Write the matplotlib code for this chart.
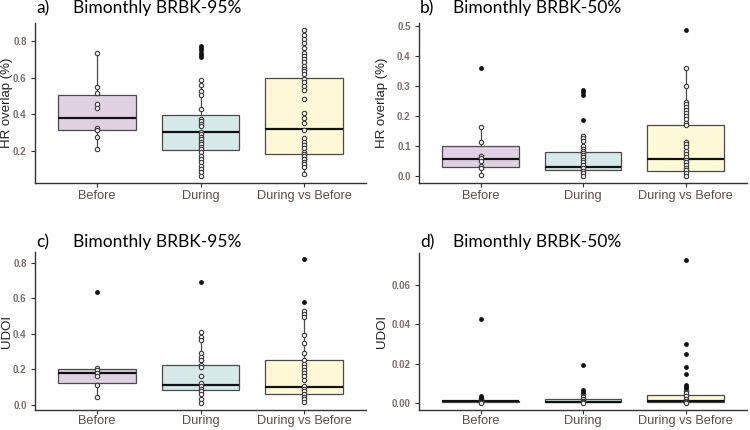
import numpy as np
import matplotlib
matplotlib.use("Agg")
import matplotlib.pyplot as plt

# === Data ===
groups = ["Before", "During", "During vs Before"]
fills = ["#dfd1e2", "#d5eae8", "#fff9d7"]

# a) HR overlap, BRBK-95%
a_before = [0.735, 0.55, 0.517, 0.454, 0.436, 0.322, 0.314, 0.278, 0.209]
a_during = [0.774, 0.762, 0.749, 0.736, 0.724, 0.711, 0.584, 0.559, 0.526, 0.503,
            0.427, 0.376, 0.361, 0.347, 0.333, 0.30, 0.291, 0.278, 0.264, 0.249,
            0.236, 0.222, 0.208, 0.195, 0.173, 0.155, 0.137, 0.118, 0.10, 0.083, 0.064]
a_dvb = [0.858, 0.834, 0.811, 0.789, 0.762, 0.735, 0.716, 0.702, 0.687, 0.662,
         0.648, 0.633, 0.617, 0.59, 0.575, 0.553, 0.531, 0.481, 0.405, 0.379,
         0.354, 0.311, 0.269, 0.249, 0.231, 0.213, 0.195, 0.182, 0.17, 0.155,
         0.14, 0.126, 0.111, 0.072]
a_q1 = [0.314, 0.204, 0.182]
a_med = [0.378, 0.30, 0.318]
a_q3 = [0.503, 0.398, 0.597]
a_lo = [0.209, 0.064, 0.072]
a_hi = [0.735, 0.584, 0.858]

# b) HR overlap, BRBK-50%
b_before = [0.359, 0.163, 0.112, 0.065, 0.058, 0.05, 0.033, 0.026, 0.002]
b_during = [0.286, 0.278, 0.27, 0.187, 0.133, 0.125, 0.116, 0.10, 0.089, 0.082,
            0.076, 0.069, 0.061, 0.052, 0.045, 0.036, 0.025, 0.017, 0.009, 0.0]
b_dvb = [0.485, 0.358, 0.298, 0.247, 0.238, 0.229, 0.22, 0.208, 0.198, 0.189,
         0.177, 0.169, 0.113, 0.105, 0.095, 0.082, 0.071, 0.062, 0.053, 0.045,
         0.036, 0.027, 0.018, 0.009, 0.0]
b_q1 = [0.029, 0.018, 0.017]
b_med = [0.055, 0.028, 0.055]
b_q3 = [0.099, 0.08, 0.169]
b_lo = [0.002, 0.0, 0.0]
b_hi = [0.163, 0.133, 0.358]

# c) UDOI, BRBK-95%
c_before = [0.634, 0.207, 0.193, 0.179, 0.164, 0.109, 0.044]
c_during = [0.693, 0.412, 0.384, 0.362, 0.291, 0.269, 0.25, 0.225, 0.21, 0.16,
            0.122, 0.103, 0.089, 0.074, 0.057, 0.034, 0.01]
c_dvb = [0.821, 0.579, 0.527, 0.512, 0.493, 0.392, 0.347, 0.294, 0.25, 0.231,
         0.212, 0.193, 0.179, 0.16, 0.141, 0.103, 0.089, 0.074, 0.058, 0.044,
         0.029, 0.013]
c_q1 = [0.12, 0.081, 0.058]
c_med = [0.176, 0.113, 0.1]
c_q3 = [0.199, 0.226, 0.25]
c_lo = [0.044, 0.01, 0.013]
c_hi = [0.207, 0.412, 0.527]

# d) UDOI, BRBK-50%
d_before = [0.0425, 0.0033, 0.0025, 0.0018, 0.0012, 0.0005, 0.0]
d_during = [0.0195, 0.0065, 0.0057, 0.0044, 0.003, 0.002, 0.0012, 0.0007, 0.0003, 0.0]
d_dvb = [0.0727, 0.03, 0.0247, 0.0185, 0.0148, 0.0093, 0.0083, 0.0074, 0.0062,
         0.005, 0.0035, 0.002, 0.001, 0.0005, 0.0]
d_q1 = [0.0006, 0.0002, 0.0003]
d_med = [0.0009, 0.0006, 0.0008]
d_q3 = [0.0012, 0.0021, 0.0038]
d_lo = [0.0, 0.0, 0.0]
d_hi = [0.0018, 0.0044, 0.0062]

# === Panel settings ===
panels = [
    ("a)", "Bimonthly BRBK-95%", "HR overlap (%)", [a_before, a_during, a_dvb],
     a_q1, a_med, a_q3, a_lo, a_hi, [0.2, 0.4, 0.6, 0.8], "{:.1f}"),
    ("b)", "Bimonthly BRBK-50%", "HR overlap (%)", [b_before, b_during, b_dvb],
     b_q1, b_med, b_q3, b_lo, b_hi, [0.0, 0.1, 0.2, 0.3, 0.4, 0.5], "{:.1f}"),
    ("c)", "Bimonthly BRBK-95%", "UDOI", [c_before, c_during, c_dvb],
     c_q1, c_med, c_q3, c_lo, c_hi, [0.0, 0.2, 0.4, 0.6, 0.8], "{:.1f}"),
    ("d)", "Bimonthly BRBK-50%", "UDOI", [d_before, d_during, d_dvb],
     d_q1, d_med, d_q3, d_lo, d_hi, [0.0, 0.02, 0.04, 0.06], "{:.2f}"),
]

# axes rectangles in pixels: left, top, right, bottom
W, H = 750, 430
rects = [(35, 23, 366, 183), (419, 23, 747, 183),
         (35, 252, 366, 410), (419, 253, 747, 410)]
title_pos = [(36, 73, 13), (420, 453, 13), (36, 73, 247), (420, 453, 247)]
ylabel_x = [13, 388, 13, 388]
xpad = [2, 2, 0.3, 0.3]

fig = plt.figure(figsize=(W / 100, H / 100), dpi=100)

for k, (tag, title, ylab, data, q1, med, q3, lo, hi, yticks, fmt) in enumerate(panels):
    l, t, r, b = rects[k]
    ax = fig.add_axes([l / W, 1 - b / H, (r - l) / W, (b - t) / H])

    stats = []
    for i in range(3):
        stats.append(dict(q1=q1[i], med=med[i], q3=q3[i], whislo=lo[i], whishi=hi[i],
                          fliers=[]))
    bp = ax.bxp(stats, positions=[1, 2, 3], widths=0.75, patch_artist=True,
                showcaps=False,
                boxprops=dict(edgecolor="#4a4a4a", linewidth=0.9),
                whiskerprops=dict(color="#4a4a4a", linewidth=0.9),
                medianprops=dict(color="#111111", linewidth=1.6))
    for patch, c in zip(bp["boxes"], fills):
        patch.set_facecolor(c)

    for i, vals in enumerate(data):
        vals = np.array(vals)
        inside = vals[(vals >= lo[i]) & (vals <= hi[i])]
        outside = vals[(vals < lo[i]) | (vals > hi[i])]
        ax.scatter(np.full(len(inside), i + 1), inside, s=10, facecolor="white",
                   edgecolor="#3a3a3a", linewidth=0.8, zorder=4)
        ax.scatter(np.full(len(outside), i + 1), outside, s=12, color="#111111",
                   linewidth=0, zorder=5)

    allv = np.concatenate([np.array(v) for v in data])
    rng = allv.max() - allv.min()
    ax.set_ylim(allv.min() - 0.05 * rng, allv.max() + 0.05 * rng)
    ax.set_xlim(0.4, 3.6)

    ax.set_xticks([1, 2, 3])
    ax.set_xticklabels(groups, fontsize=9.2, color="#5a4e48", family="Liberation Sans")
    ax.set_yticks(yticks)
    ax.set_yticklabels([fmt.format(v) for v in yticks], fontsize=7, color="#7a6e6a",
                       family="Liberation Sans", weight="bold")
    ax.tick_params(axis="both", length=3, width=0.8, color="#333333")
    ax.tick_params(axis="x", pad=xpad[k])
    ax.tick_params(axis="y", pad=3)

    for side in ["top", "right"]:
        ax.spines[side].set_visible(False)
    for side in ["left", "bottom"]:
        ax.spines[side].set_color("#333333")
        ax.spines[side].set_linewidth(1.0)

    ax.set_ylabel(ylab, fontsize=9.5, color="#222222", family="Liberation Sans")
    ax.yaxis.set_label_coords((ylabel_x[k] - l) / (r - l), 0.5)

    tx, bx, by = title_pos[k]
    fig.text(tx / W, 1 - by / H, tag, fontsize=12.5, family="Lato", va="baseline")
    fig.text(bx / W, 1 - by / H, title, fontsize=12.5, family="Lato", va="baseline")

fig.savefig("out.png", dpi=100)
